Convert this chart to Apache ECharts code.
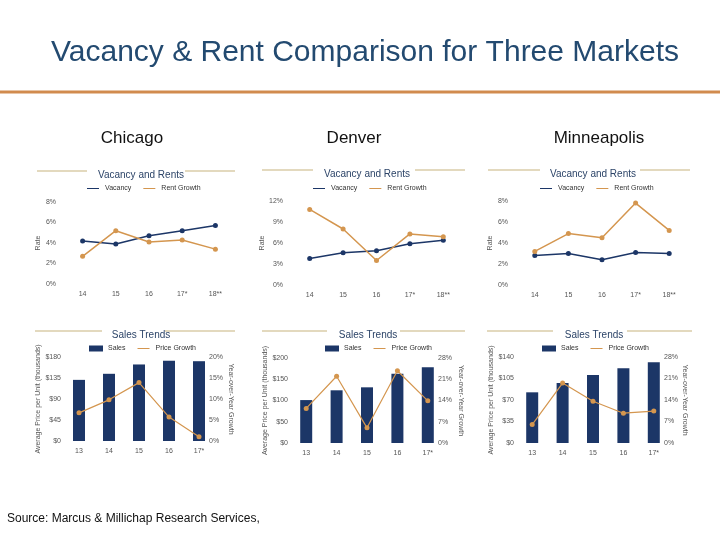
<!DOCTYPE html>
<html>
<head>
<meta charset="utf-8">
<script src="https://cdn.jsdelivr.net/npm/echarts@6/dist/echarts.min.js"></script>
<style>
  html, body { margin: 0; padding: 0; background: #fff; }
  #chart { width: 720px; height: 540px; }
</style>
</head>
<body>
<div id="chart"></div>
<script>
// categories
const rateYears = ["14", "15", "16", "17*", "18**"]
const salesYears = ["13", "14", "15", "16", "17*"]

// vacancy / rent growth (%)
const chicagoVacancy = [4.2, 3.9, 4.7, 5.2, 5.7]
const chicagoRentGrowth = [2.7, 5.2, 4.1, 4.3, 3.4]
const denverVacancy = [3.8, 4.6, 4.9, 5.9, 6.4]
const denverRentGrowth = [10.8, 8.0, 3.5, 7.3, 6.9]
const minneapolisVacancy = [2.8, 3.0, 2.4, 3.1, 3.0]
const minneapolisRentGrowth = [3.2, 4.9, 4.5, 7.8, 5.2]

// sales (avg price per unit, $K) / price growth (%)
const chicagoSales = [131, 144, 164, 172, 171]
const chicagoPriceGrowth = [6.7, 9.8, 13.9, 5.7, 1.0]
const denverSales = [101, 124, 131, 163, 178]
const denverPriceGrowth = [11.4, 22.0, 5.0, 23.8, 13.9]
const minneapolisSales = [82.5, 97.7, 110.7, 121.6, 131.3]
const minneapolisPriceGrowth = [6.0, 19.5, 13.6, 9.7, 10.4]

// axis ranges [max, interval]
const chicagoRateAxis = [8, 2]
const denverRateAxis = [12, 3]
const minneapolisRateAxis = [8, 2]
const chicagoSalesAxis = [180, 45]
const denverSalesAxis = [200, 50]
const minneapolisSalesAxis = [140, 35]
const chicagoGrowthAxis = [20, 5]
const denverGrowthAxis = [28, 7]
const minneapolisGrowthAxis = [28, 7]

const NAVY = "#1c3667"
const ORANGE = "#d4964f"
const TAN = "#dacca9"
const LABEL = "#555"
const FONT = "Liberation Sans, Arial, sans-serif"

const markets = [
  { name: "Chicago", vacancy: chicagoVacancy, rent: chicagoRentGrowth, sales: chicagoSales, price: chicagoPriceGrowth,
    rateAxis: chicagoRateAxis, salesAxis: chicagoSalesAxis, growthAxis: chicagoGrowthAxis },
  { name: "Denver", vacancy: denverVacancy, rent: denverRentGrowth, sales: denverSales, price: denverPriceGrowth,
    rateAxis: denverRateAxis, salesAxis: denverSalesAxis, growthAxis: denverGrowthAxis },
  { name: "Minneapolis", vacancy: minneapolisVacancy, rent: minneapolisRentGrowth, sales: minneapolisSales, price: minneapolisPriceGrowth,
    rateAxis: minneapolisRateAxis, salesAxis: minneapolisSalesAxis, growthAxis: minneapolisGrowthAxis },
]

// layout per market column
const layout = [
  { city: 127, top: { left: 66, top: 202, width: 166, height: 82, title: 136, ty: 171, lines: [[37, 87], [185, 235]], legend: 82, rateGap: 22 },
    bot: { left: 64, top: 357, width: 150, height: 84, title: 136, ty: 331, lines: [[35, 102], [165, 235]], legend: 84, lGap: 17, rGap: 13 } },
  { city: 349, top: { left: 293, top: 201, width: 167, height: 84, title: 362, ty: 170, lines: [[262, 313], [415, 465]], legend: 308, rateGap: 24 },
    bot: { left: 291, top: 358, width: 152, height: 85, title: 363, ty: 331, lines: [[262, 327], [400, 465]], legend: 320, lGap: 20, rGap: 14 } },
  { city: 594, top: { left: 518, top: 201, width: 168, height: 84, title: 588, ty: 170, lines: [[488, 540], [640, 690]], legend: 535, rateGap: 24 },
    bot: { left: 517, top: 357, width: 152, height: 86, title: 589, ty: 331, lines: [[487, 553], [627, 692]], legend: 537, lGap: 20, rGap: 11 } },
]

const LINE_ICON = "path://M0,0L0.1,0M0,4.3L20,4.3L20,5.7L0,5.7ZM0,10L0.1,10"

const axisLabel = { fontSize: 7, color: LABEL, fontFamily: FONT }
const titles = [
  { text: "Vacancy & Rent Comparison for Three Markets", left: 360, top: 33, textAlign: "center",
    textStyle: { fontSize: 30, fontWeight: "normal", color: "#234a70", fontFamily: FONT } },
  { text: "Source: Marcus & Millichap Research Services,", left: 2, top: 508,
    textStyle: { fontSize: 12, fontWeight: "normal", color: "#111", fontFamily: FONT } },
]
const grids = [], xAxes = [], yAxes = [], series = [], legends = []
const graphics = [
  { type: "rect", shape: { x: 0, y: 90.5, width: 720, height: 3 }, style: { fill: "#d18b4e" } },
]

markets.forEach((m, i) => {
  const L = layout[i]
  titles.push({ text: m.name, left: L.city, top: 125, textAlign: "center",
    textStyle: { fontSize: 17, fontWeight: "normal", color: "#111", fontFamily: FONT } })
  ;[[L.top, "Vacancy and Rents"], [L.bot, "Sales Trends"]].forEach(([b, t]) => {
    titles.push({ text: t, left: b.title, top: b.ty - 6, textAlign: "center",
      textStyle: { fontSize: 10, fontWeight: "normal", color: "#2c4468", fontFamily: FONT } })
    b.lines.forEach(([x1, x2]) => graphics.push({ type: "line", shape: { x1, y1: b.ty, x2, y2: b.ty },
      style: { stroke: TAN, lineWidth: 1.5 } }))
  })

  // top: vacancy and rents
  const gTop = grids.length
  grids.push({ left: L.top.left, top: L.top.top, width: L.top.width, height: L.top.height })
  xAxes.push({ type: "category", gridIndex: gTop, data: rateYears, axisLine: { show: false }, axisTick: { show: false },
    axisLabel: { ...axisLabel, margin: 7 } })
  const yTop = yAxes.length
  yAxes.push({ type: "value", gridIndex: gTop, min: 0, max: m.rateAxis[0], interval: m.rateAxis[1],
    splitLine: { show: false }, axisLine: { show: false }, axisTick: { show: false },
    axisLabel: { ...axisLabel, formatter: "{value}%", margin: 10 },
    name: "Rate", nameLocation: "middle", nameRotate: 90, nameGap: L.top.rateGap,
    nameTextStyle: { fontSize: 7, color: LABEL, fontFamily: FONT } })
  series.push(
    { name: "Vacancy", type: "line", xAxisIndex: gTop, yAxisIndex: yTop, data: m.vacancy,
      symbol: "circle", symbolSize: 5, color: NAVY, lineStyle: { width: 1.5 } },
    { name: "Rent Growth", type: "line", xAxisIndex: gTop, yAxisIndex: yTop, data: m.rent,
      symbol: "circle", symbolSize: 5, color: ORANGE, lineStyle: { width: 1.5 } })
  legends.push({ left: L.top.legend, top: 180, itemWidth: 14, itemHeight: 6, itemGap: 12,
    textStyle: { fontSize: 7, color: "#333", fontFamily: FONT },
    itemStyle: { borderWidth: 0 },
    data: [{ name: "Vacancy", icon: LINE_ICON }, { name: "Rent Growth", icon: LINE_ICON }] })

  // bottom: sales trends
  const gBot = grids.length
  grids.push({ left: L.bot.left, top: L.bot.top, width: L.bot.width, height: L.bot.height })
  xAxes.push({ type: "category", gridIndex: gBot, data: salesYears, axisLine: { show: false }, axisTick: { show: false },
    axisLabel: { ...axisLabel, margin: 7 } })
  const yL = yAxes.length
  yAxes.push({ type: "value", gridIndex: gBot, position: "left", min: 0, max: m.salesAxis[0], interval: m.salesAxis[1],
    splitLine: { show: false }, axisLine: { show: false }, axisTick: { show: false },
    axisLabel: { ...axisLabel, formatter: "${value}", margin: 3 },
    name: "Average Price per Unit (thousands)", nameLocation: "middle", nameRotate: 90, nameGap: L.bot.lGap,
    nameTextStyle: { fontSize: 7, color: LABEL, fontFamily: FONT } })
  const yR = yAxes.length
  yAxes.push({ type: "value", gridIndex: gBot, position: "right", min: 0, max: m.growthAxis[0], interval: m.growthAxis[1],
    splitLine: { show: false }, axisLine: { show: false }, axisTick: { show: false },
    axisLabel: { ...axisLabel, formatter: "{value}%", margin: -5 },
    name: "Year-over-Year Growth", nameLocation: "middle", nameRotate: -90, nameGap: L.bot.rGap,
    nameTextStyle: { fontSize: 7, color: LABEL, fontFamily: FONT } })
  series.push(
    { name: "Sales", type: "bar", xAxisIndex: gBot, yAxisIndex: yL, data: m.sales, barWidth: 12, color: NAVY },
    { name: "Price Growth", type: "line", xAxisIndex: gBot, yAxisIndex: yR, data: m.price,
      symbol: "circle", symbolSize: 5, color: ORANGE, lineStyle: { width: 1.2 } })
  legends.push({ left: L.bot.legend, top: 340, itemWidth: 14, itemHeight: 6, itemGap: 12,
    textStyle: { fontSize: 7, color: "#333", fontFamily: FONT },
    itemStyle: { borderWidth: 0 },
    data: [{ name: "Sales", icon: "rect" }, { name: "Price Growth", icon: LINE_ICON }] })
})

const chart = echarts.init(document.getElementById("chart"))
chart.setOption({
  animation: false,
  backgroundColor: "#fff",
  textStyle: { fontFamily: FONT },
  title: titles,
  legend: legends,
  grid: grids,
  xAxis: xAxes,
  yAxis: yAxes,
  series,
  graphic: graphics,
})
</script>
</body>
</html>
